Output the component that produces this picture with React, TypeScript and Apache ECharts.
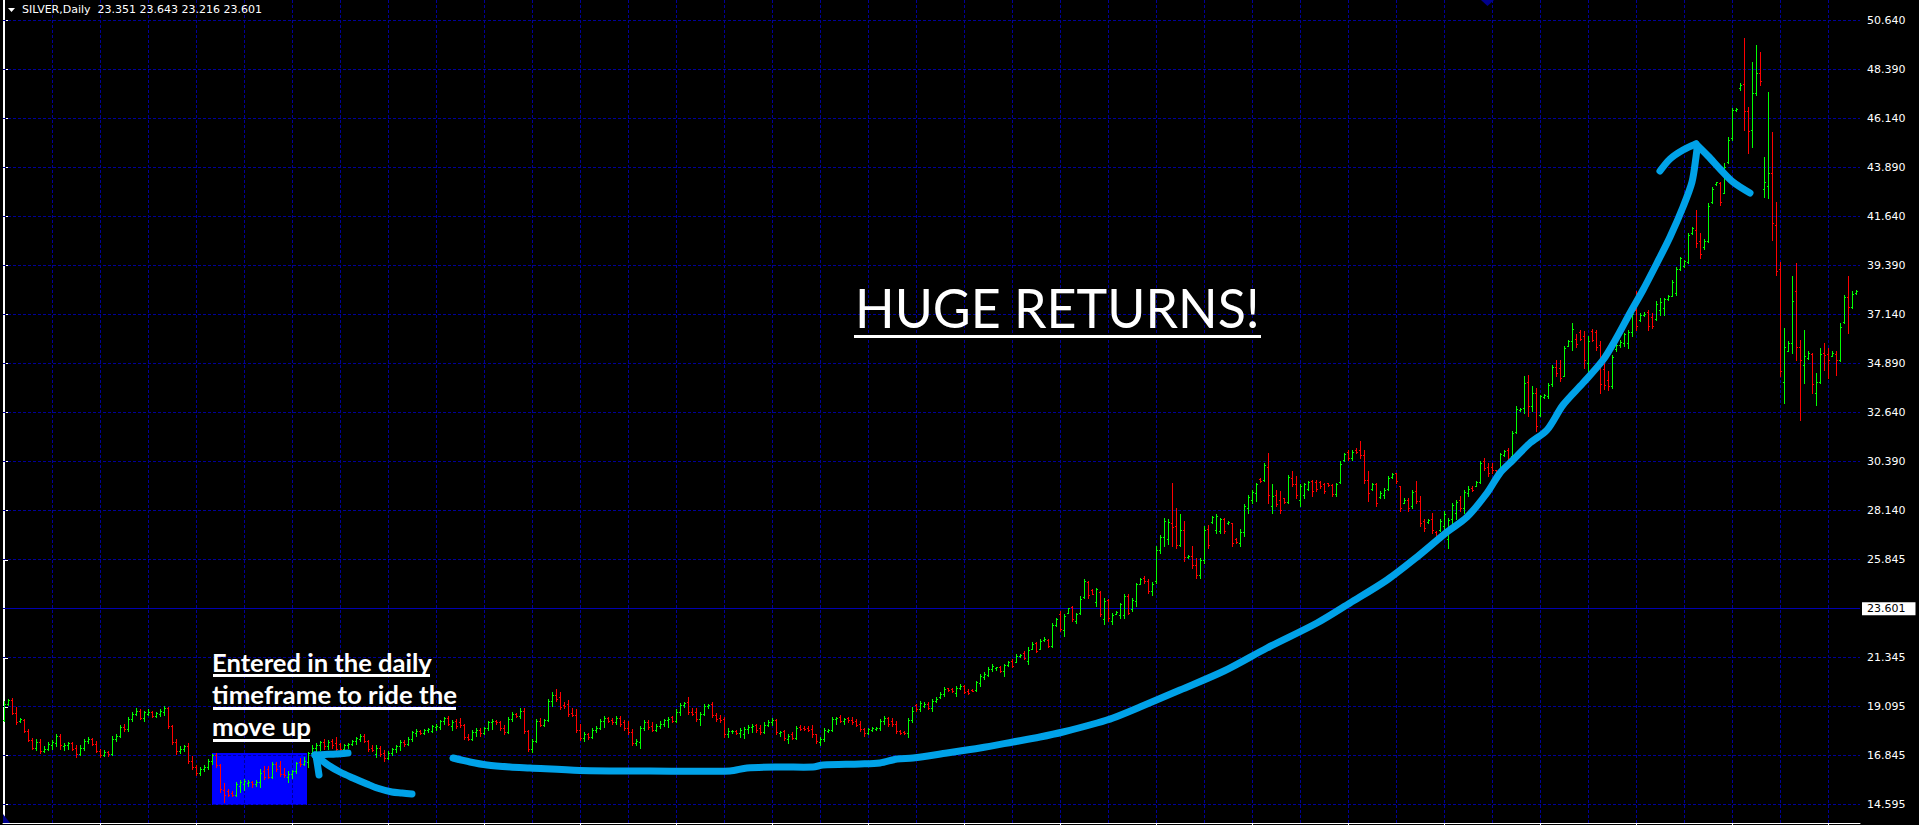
import React, { useEffect, useRef } from 'react';
import * as echarts from 'echarts';

// ---------------- data ----------------
const SYMBOL = 'SILVER,Daily';
const CURRENT_BAR = ['23.351', '23.643', '23.216', '23.601']; // open high low close of the live bar
const BID = 23.601;
const PRICE_LABELS = ['14.595', '16.845', '19.095', '21.345', '25.845', '28.140', '30.390', '32.640', '34.890', '37.140', '39.390', '41.640', '43.890', '46.140', '48.390', '50.640'];
const GRID_EVERY_BARS = 12;
const TIME_TICK_EVERY_BARS = 24;

// daily bars: [open, high, low, close]
const ohlc: number[][] = [
  [18.45,19.33,18.41,19.20],[19.20,19.45,19.15,19.38],[19.40,19.47,18.73,18.80],[18.80,19.05,18.27,18.35],[18.40,18.55,18.35,18.50],[18.45,18.50,17.90,17.95],[17.95,18.05,17.50,17.55],[17.55,17.65,17.12,17.20],[17.20,17.58,17.10,17.45],[17.45,17.60,16.93,17.05],
  [17.05,17.25,17.00,17.15],[17.15,17.45,17.10,17.35],[17.30,17.55,17.15,17.45],[17.40,17.80,17.28,17.75],[17.75,17.80,17.15,17.30],[17.25,17.40,17.10,17.30],[17.30,17.45,17.15,17.40],[17.40,17.45,17.08,17.15],[17.20,17.30,16.75,16.90],[16.90,17.30,16.85,17.20],
  [17.20,17.58,17.10,17.50],[17.50,17.70,17.40,17.60],[17.60,17.65,17.30,17.35],[17.35,17.50,17.00,17.05],[17.05,17.15,16.75,16.85],[16.85,17.10,16.80,17.00],[17.00,17.05,16.80,16.90],[16.90,17.72,16.85,17.60],[17.60,17.80,17.50,17.75],[17.75,18.25,17.70,18.15],
  [18.15,18.30,17.95,18.05],[18.05,18.60,17.95,18.50],[18.50,18.85,18.40,18.75],[18.75,19.00,18.70,18.90],[18.90,18.95,18.50,18.55],[18.55,18.90,18.40,18.85],[18.75,18.95,18.70,18.85],[18.85,18.90,18.60,18.65],[18.65,18.85,18.60,18.78],[18.75,18.95,18.65,18.90],
  [18.85,19.10,18.70,19.00],[19.00,19.05,18.10,18.20],[18.20,18.25,17.35,17.45],[17.45,17.60,16.90,17.05],[17.05,17.25,16.95,17.15],[17.15,17.30,17.05,17.25],[17.25,17.40,16.50,16.60],[16.60,16.80,16.20,16.30],[16.30,16.40,15.95,16.05],[16.05,16.30,15.95,16.20],
  [16.20,16.40,16.10,16.30],[16.30,16.65,16.20,16.60],[16.60,16.90,16.45,16.85],[16.85,16.95,16.30,16.40],[16.40,16.45,15.15,15.30],[15.25,15.55,14.68,15.00],[15.20,15.30,14.95,15.00],[15.10,15.20,14.95,15.00],[15.00,15.60,14.95,15.50],[15.45,15.70,15.15,15.60],
  [15.50,15.75,15.25,15.65],[15.55,15.70,15.45,15.60],[15.60,15.65,15.40,15.50],[15.50,15.70,15.45,15.60],[15.60,16.20,15.40,16.05],[16.10,16.35,15.75,15.85],[16.20,16.35,15.80,15.85],[15.85,16.55,15.80,16.45],[16.45,16.55,16.10,16.20],[16.35,16.60,15.90,16.00],
  [16.00,16.25,15.85,15.95],[15.85,16.10,15.60,16.00],[16.00,16.15,15.80,16.10],[16.10,16.55,16.05,16.50],[16.55,16.70,16.35,16.45],[16.45,16.75,16.40,16.60],[16.55,17.00,16.30,16.95],[16.95,17.30,16.85,17.20],[17.20,17.40,17.05,17.30],[17.30,17.50,17.10,17.45],
  [17.45,17.60,17.15,17.25],[17.25,17.55,17.15,17.45],[17.50,17.60,17.20,17.30],[17.40,17.70,17.05,17.15],[17.35,17.40,17.10,17.15],[17.15,17.35,17.10,17.30],[17.30,17.40,17.20,17.35],[17.35,17.55,17.30,17.50],[17.50,17.70,17.35,17.65],[17.60,17.80,17.50,17.75],
  [17.75,17.80,17.45,17.50],[17.50,17.55,17.05,17.15],[17.20,17.30,17.05,17.10],[16.90,17.30,16.75,17.20],[17.20,17.25,16.80,16.90],[16.95,17.10,16.60,16.70],[16.70,17.05,16.65,16.95],[16.95,17.20,16.85,17.15],[17.15,17.30,17.00,17.25],[17.25,17.55,17.10,17.45],
  [17.45,17.55,17.25,17.35],[17.35,17.70,17.30,17.60],[17.60,17.95,17.50,17.90],[17.85,18.05,17.75,17.95],[17.95,18.00,17.80,17.85],[17.85,18.05,17.80,18.00],[18.00,18.10,17.90,18.05],[17.95,18.25,17.90,18.20],[18.15,18.30,18.00,18.20],[18.15,18.45,18.05,18.40],
  [18.40,18.60,18.30,18.55],[18.55,18.65,18.25,18.30],[18.20,18.45,18.00,18.35],[18.40,18.50,18.10,18.20],[18.35,18.55,18.15,18.25],[18.25,18.30,17.60,17.70],[17.70,17.80,17.55,17.60],[17.60,18.00,17.55,17.90],[17.90,18.10,17.75,18.00],[18.00,18.10,17.75,17.85],
  [17.85,18.15,17.80,18.10],[18.10,18.40,18.00,18.35],[18.35,18.50,18.05,18.40],[18.40,18.45,18.30,18.35],[18.35,18.40,18.00,18.10],[18.10,18.25,17.80,17.90],[17.90,18.60,17.85,18.50],[18.50,18.85,18.40,18.75],[18.75,18.80,18.60,18.65],[18.65,19.00,18.55,18.90],
  [18.90,19.00,17.85,17.95],[17.95,18.00,17.05,17.15],[17.15,17.60,17.00,17.50],[17.50,18.50,17.45,18.40],[18.40,18.55,18.20,18.25],[18.25,18.50,18.20,18.45],[18.45,19.45,18.40,19.35],[19.35,19.75,19.10,19.60],[19.60,19.90,19.35,19.45],[19.50,19.75,18.95,19.05],
  [19.15,19.30,19.00,19.10],[19.20,19.40,18.65,18.75],[18.80,19.00,18.65,18.70],[18.70,18.95,17.90,18.00],[18.00,18.30,17.55,17.65],[17.65,17.90,17.50,17.80],[17.80,17.85,17.60,17.70],[17.70,18.10,17.65,18.00],[18.00,18.20,17.90,18.10],[18.10,18.50,18.05,18.40],
  [18.40,18.65,18.15,18.55],[18.55,18.60,18.35,18.40],[18.45,18.55,18.30,18.35],[18.35,18.65,18.30,18.55],[18.55,18.65,18.20,18.30],[18.35,18.45,18.00,18.10],[18.10,18.40,17.80,17.90],[17.90,18.05,17.30,17.40],[17.40,17.60,17.30,17.50],[17.45,18.20,17.20,18.10],
  [18.10,18.45,18.00,18.35],[18.35,18.45,18.05,18.15],[18.20,18.35,17.95,18.00],[18.00,18.30,17.95,18.20],[18.20,18.40,18.10,18.30],[18.30,18.50,18.20,18.45],[18.45,18.60,18.15,18.50],[18.60,18.65,18.35,18.40],[18.40,18.95,18.35,18.85],[18.85,19.25,18.70,19.15],
  [19.15,19.30,19.05,19.25],[19.30,19.50,18.75,18.85],[18.85,19.00,18.70,18.75],[18.85,19.00,18.40,18.50],[18.50,18.85,18.25,18.75],[18.75,19.20,18.70,19.10],[19.10,19.20,19.00,19.15],[19.20,19.30,18.60,18.70],[18.70,18.80,18.40,18.50],[18.55,18.70,18.35,18.45],
  [18.50,18.60,17.70,17.80],[17.80,18.10,17.70,17.95],[17.95,18.00,17.85,17.98],[17.95,18.00,17.80,17.85],[17.85,18.10,17.70,18.00],[17.80,18.15,17.65,18.05],[18.05,18.25,17.85,18.15],[18.15,18.30,17.90,18.20],[18.25,18.30,17.90,18.00],[18.10,18.25,17.80,17.90],
  [17.90,18.35,17.85,18.25],[18.25,18.45,18.20,18.35],[18.35,18.55,18.25,18.45],[18.45,18.50,17.80,17.90],[17.85,17.95,17.75,17.90],[17.95,18.00,17.55,17.65],[17.60,17.80,17.40,17.75],[17.80,17.90,17.60,17.65],[17.65,18.20,17.60,18.10],[18.15,18.25,18.00,18.05],
  [18.10,18.20,18.00,18.05],[18.10,18.20,17.95,18.00],[18.05,18.25,17.70,17.80],[17.80,17.80,17.40,17.50],[17.45,17.70,17.30,17.60],[17.60,18.10,17.50,18.00],[17.95,18.05,17.90,18.00],[18.00,18.60,17.95,18.50],[18.50,18.60,18.30,18.55],[18.60,18.70,18.35,18.40],
  [18.40,18.55,18.30,18.50],[18.55,18.60,18.35,18.45],[18.45,18.60,18.30,18.35],[18.40,18.50,18.20,18.25],[18.30,18.40,17.95,18.05],[18.05,18.10,17.75,17.85],[17.85,18.10,17.80,18.05],[18.00,18.15,17.95,18.10],[18.05,18.15,18.00,18.10],[18.10,18.50,18.00,18.40],
  [18.40,18.65,18.30,18.55],[18.55,18.60,18.20,18.30],[18.40,18.55,18.20,18.30],[18.30,18.40,17.85,17.95],[17.95,18.00,17.80,17.85],[17.90,17.95,17.80,17.85],[17.85,18.55,17.70,18.45],[18.45,19.05,18.35,18.90],[19.15,19.20,18.88,18.95],[18.95,19.35,18.88,19.25],
  [19.10,19.28,19.04,19.20],[19.20,19.27,18.97,19.02],[19.00,19.43,18.90,19.35],[19.35,19.50,19.27,19.45],[19.50,19.73,19.48,19.68],[19.65,19.96,19.58,19.90],[19.92,19.95,19.80,19.84],[19.88,19.92,19.76,19.80],[19.70,20.04,19.58,19.95],[19.95,20.12,19.88,20.05],
  [20.05,20.08,19.70,19.76],[19.82,19.88,19.65,19.70],[19.86,19.88,19.80,19.82],[19.85,20.27,19.80,20.20],[20.15,20.57,20.04,20.50],[20.45,20.65,20.34,20.60],[20.55,20.88,20.50,20.80],[20.80,21.03,20.73,20.95],[20.85,20.90,20.77,20.88],[20.92,20.96,20.68,20.72],
  [20.72,21.03,20.50,20.98],[20.98,21.20,20.95,21.15],[21.20,21.26,20.88,20.95],[21.15,21.50,21.11,21.40],[21.40,21.50,21.38,21.47],[21.55,21.64,21.26,21.30],[21.20,21.80,21.03,21.70],[21.75,22.03,21.72,21.95],[22.00,22.03,21.57,21.65],[21.75,22.18,21.72,22.10],
  [22.12,22.26,22.08,22.20],[22.15,22.18,21.80,21.87],[21.85,22.94,21.80,22.85],[22.85,23.17,22.79,23.10],[23.35,23.48,22.56,22.65],[22.60,23.33,22.33,23.25],[23.40,23.63,23.37,23.60],[23.65,23.71,23.02,23.10],[23.00,23.40,22.94,23.35],[23.40,24.17,23.33,24.05],
  [24.10,24.93,24.09,24.85],[24.80,24.86,24.09,24.20],[24.45,24.47,24.24,24.28],[23.90,24.55,23.71,24.50],[24.35,24.40,23.25,23.35],[23.10,24.09,22.87,23.95],[24.00,24.01,23.02,23.15],[23.00,23.40,22.87,23.30],[23.35,23.48,23.33,23.45],[23.30,23.86,23.17,23.80],
  [23.30,24.24,23.17,24.15],[24.15,24.24,23.33,23.40],[23.55,24.09,23.48,24.00],[23.95,24.78,23.71,24.70],[24.72,25.01,24.70,24.95],[25.00,25.09,24.78,24.85],[24.85,24.95,24.30,24.40],[24.40,24.80,24.20,24.70],[24.85,26.46,24.78,26.30],[26.30,26.99,26.16,26.90],
  [26.90,27.76,26.46,27.60],[26.80,27.69,26.54,27.55],[27.50,29.37,26.46,27.35],[27.40,28.22,26.39,26.50],[26.50,27.92,26.46,27.20],[27.20,27.61,25.77,25.95],[25.95,26.05,25.90,26.00],[26.00,26.46,25.47,25.60],[25.60,25.93,25.01,25.15],[25.15,25.93,25.01,25.80],
  [25.80,27.38,25.70,27.20],[27.25,27.41,26.39,26.50],[27.55,27.84,27.53,27.80],[27.20,27.92,27.07,27.85],[27.15,27.76,27.07,27.70],[27.70,27.76,27.07,27.15],[27.50,27.61,27.46,27.58],[27.50,27.53,26.46,26.60],[26.80,26.85,26.62,26.65],[26.60,27.23,26.46,27.10],
  [27.10,28.38,26.92,28.30],[28.20,28.83,27.99,28.70],[28.60,29.06,28.45,28.95],[28.90,29.37,28.53,29.30],[29.55,29.60,29.42,29.46],[29.50,30.29,29.45,30.20],[30.10,30.75,28.45,28.80],[28.30,29.30,27.99,28.75],[28.80,29.06,28.30,28.40],[28.60,28.99,27.99,28.10],
  [28.65,28.68,28.45,28.50],[28.50,29.75,28.45,29.65],[29.60,29.90,29.22,29.30],[29.30,29.68,28.68,28.80],[28.60,29.30,28.30,29.20],[28.80,29.37,28.68,29.30],[29.10,29.45,29.06,29.40],[29.45,29.52,28.76,29.00],[29.40,29.52,28.99,29.10],[29.40,29.45,29.14,29.20],
  [29.30,29.37,28.91,29.00],[29.35,29.37,29.22,29.25],[29.25,29.30,28.76,28.85],[28.85,29.37,28.76,29.30],[29.40,30.37,29.37,30.25],[30.40,30.75,30.37,30.70],[30.80,30.90,30.44,30.50],[30.50,30.90,30.44,30.80],[30.90,30.98,30.75,30.80],[30.90,31.28,30.52,30.65],
  [30.65,30.90,29.37,29.50],[29.50,29.90,28.53,28.90],[29.10,29.37,29.06,29.30],[29.30,29.37,28.30,28.45],[28.70,28.99,28.68,28.90],[28.80,29.14,28.68,29.05],[29.10,29.68,29.06,29.60],[29.62,29.83,29.60,29.78],[29.80,29.83,29.37,29.45],[29.20,29.22,28.07,28.20],
  [28.45,28.68,28.43,28.60],[28.60,28.68,28.07,28.20],[28.30,29.06,28.22,28.95],[29.00,29.45,28.45,28.55],[28.55,28.76,27.38,27.50],[27.60,27.69,27.15,27.30],[27.55,27.69,27.53,27.65],[27.70,27.99,27.07,27.20],[27.10,27.15,26.85,26.90],[27.20,27.69,27.15,27.60],
  [27.40,28.07,27.15,27.95],[26.80,27.76,26.39,27.65],[27.70,28.45,27.38,28.35],[28.00,28.60,27.69,28.50],[28.60,28.76,28.07,28.20],[28.20,29.06,27.99,28.95],[28.90,29.22,28.76,29.10],[29.15,29.22,28.99,29.05],[29.22,29.45,29.20,29.40],[29.40,30.37,29.37,30.30],
  [30.35,30.52,29.98,30.05],[30.10,30.29,29.68,29.80],[30.10,30.29,29.83,29.95],[29.96,29.98,29.80,29.85],[29.90,30.75,29.85,30.70],[30.65,30.90,30.59,30.85],[30.90,30.98,30.36,30.45],[30.60,31.74,30.59,31.65],[31.70,32.89,31.67,32.75],[32.70,32.82,32.66,32.78],
  [32.80,34.27,32.58,33.95],[34.00,34.34,32.43,32.90],[32.90,33.81,32.66,33.50],[33.50,33.73,31.74,32.00],[32.50,33.42,32.43,33.35],[33.30,33.45,33.27,33.40],[33.35,33.96,33.27,33.85],[33.90,34.80,33.81,34.70],[34.70,35.03,34.27,34.40],[34.65,35.03,34.04,34.20],
  [34.30,35.64,34.27,35.55],[35.65,35.95,35.64,35.90],[35.90,36.71,35.49,36.45],[36.00,36.20,35.60,35.75],[36.30,36.41,35.95,36.00],[36.10,36.33,34.65,35.00],[34.90,36.10,34.42,35.90],[36.35,36.45,35.87,35.95],[36.30,36.41,35.49,35.60],[35.70,35.87,33.50,33.90],
  [34.60,34.88,33.70,33.85],[34.10,34.50,33.65,33.80],[33.80,35.26,33.73,35.15],[35.50,35.75,35.45,35.70],[35.70,35.95,35.60,35.85],[35.80,36.26,35.64,36.20],[35.80,36.41,35.57,36.30],[36.30,37.25,36.10,37.15],[37.30,38.17,36.41,36.60],[36.85,37.17,36.79,37.10],
  [37.10,37.20,37.05,37.15],[37.20,37.33,36.41,36.60],[37.00,37.17,36.48,36.60],[36.90,37.71,36.87,37.60],[37.30,37.86,37.10,37.70],[37.40,37.86,37.10,37.80],[37.80,38.01,37.79,37.95],[37.95,38.70,37.94,38.60],[38.10,39.31,38.01,39.20],[39.20,39.77,39.16,39.70],
  [39.35,39.62,39.31,39.55],[39.50,40.85,39.47,40.75],[40.85,41.15,40.83,41.10],[41.00,41.92,40.23,40.40],[40.50,40.85,39.70,39.90],[40.20,40.60,40.10,40.50],[40.50,42.22,40.46,42.10],[42.30,42.99,42.22,42.90],[43.10,43.22,43.08,43.20],[43.15,43.22,42.15,42.30],
  [42.70,44.06,42.68,43.90],[44.10,45.28,44.06,45.15],[45.20,46.58,45.13,46.50],[46.50,46.60,46.48,46.57],[47.50,47.73,47.45,47.68],[47.70,49.80,45.59,46.45],[46.45,46.66,44.52,45.55],[45.60,48.72,44.82,47.30],[47.30,49.49,47.20,48.20],[48.20,49.18,47.65,47.85],
  [42.90,44.36,42.53,43.22],[43.00,47.35,42.45,43.60],[43.60,45.51,40.54,41.30],[41.20,42.30,38.93,39.10],[39.20,39.54,34.27,34.50],[34.00,36.48,33.04,35.60],[35.45,35.87,35.41,35.80],[35.80,38.86,35.34,37.75],[38.20,39.47,35.03,35.60],[35.60,35.95,32.28,35.00],
  [34.80,36.41,33.96,35.20],[35.10,35.41,35.08,35.35],[35.30,35.34,33.50,33.90],[33.50,34.42,32.96,34.00],[34.00,35.57,33.96,35.30],[35.35,35.79,34.57,35.25],[35.30,35.57,34.19,35.00],[35.20,35.41,35.18,35.35],[35.30,35.41,34.34,35.00],[35.00,36.71,34.95,36.55],
  [36.75,38.01,36.71,37.90],[37.90,38.86,36.26,37.45],[37.45,38.17,37.40,38.05],[38.08,38.24,38.05,38.20],
];

// highlighted entry zone (in bar index / price units)
const ENTRY_ZONE = { fromBar: 52, toBar: 75.75, top: 16.97, bottom: 14.6 };

// ---------------- layout & style ----------------
const W = 1919;
const H = 825;
const PLOT_LEFT = 3;
const PLOT_RIGHT = 1860;
const PLOT_BOTTOM = 823;
const BAR_PX = 4;
const X_MIN = -0.25;
const X_MAX = X_MIN + (PLOT_RIGHT - PLOT_LEFT) / BAR_PX;
const Y_MAX = 51.59;
const Y_MIN = 13.752;

const UP = '#00ff00';
const DOWN = '#ff0000';
const GRID_COLOR = '#000098';
const BID_COLOR = '#0000b0';
const INK = '#00a2e8';
const ZONE_COLOR = '#0000ff';

// freehand annotation strokes (screen pixels)
const SMALL_ARROW_SHAFT = [[412,794],[402,793],[392,792],[377,788],[367,784],[353,778],[340,772],[328,765],[319,758],[315,755]];
const SMALL_ARROW_HEAD_A = [[315,755],[325,754.5],[336,754],[348,753]];
const SMALL_ARROW_HEAD_B = [[316,756],[317.5,765],[319,775]];
const BIG_CURVE = [[453,758],[470,762],[487,765],[510,767],[530,768],[580,770.5],[650,771],[730,771],[747,768],[780,767],[813,767],[823,765],[860,764],[880,763],[897,759],[913,758],[947,753],[980,748],[1013,742],[1040,737],[1063,732],[1097,723],[1113,718],[1140,707],[1180,690],[1224,671],[1267,648],[1317,623],[1350,603],[1387,580],[1417,557],[1447,532],[1467,517],[1487,493],[1500,473],[1513,460],[1530,443],[1547,430],[1563,405],[1583,383],[1603,360],[1617,337],[1630,313],[1643,290],[1657,263],[1670,237],[1683,207],[1692,182],[1696,157],[1697,147],[1696,144]];
const BIG_HEAD_LEFT = [[1696,144],[1683,150],[1670,159],[1660,171]];
const BIG_HEAD_RIGHT = [[1697,145],[1708,156],[1720,169],[1733,182],[1750,193]];

function measure(text: string, font: string): number {
  const ctx = document.createElement('canvas').getContext('2d');
  if (!ctx) return 1;
  ctx.font = font;
  return ctx.measureText(text).width || 1;
}

function fittedText(text: string, x: number, y: number, size: number, weight: string, family: string, targetWidth: number) {
  const w = measure(text, `${weight} ${size}px ${family}`);
  return {
    type: 'text', x, y, scaleX: targetWidth / w, scaleY: 1, z: 100, silent: true,
    style: { text, fill: '#ffffff', fontSize: size, fontWeight: weight, fontFamily: family, align: 'left', verticalAlign: 'middle' },
  };
}

function stroke(points: number[][], smooth = 0.35) {
  return {
    type: 'polyline', z: 90, silent: true,
    shape: { points, smooth },
    style: { stroke: INK, lineWidth: 7, lineCap: 'round', lineJoin: 'round', fill: null },
  };
}

function buildOption(): any {
  const tickValues = PRICE_LABELS.map(Number);
  const vGrid: number[] = [];
  for (let i = GRID_EVERY_BARS; i < ohlc.length; i += GRID_EVERY_BARS) vGrid.push(i);
  const timeTicks: number[] = [];
  for (let i = TIME_TICK_EVERY_BARS; i < ohlc.length; i += TIME_TICK_EVERY_BARS) timeTicks.push(i);

  const gridData = [
    ...tickValues.map((v) => [0, v]),
    ...vGrid.map((i) => [1, i]),
    [2, BID],
  ];

  const title = `${SYMBOL}  ${CURRENT_BAR.join(' ')}`;

  return {
    animation: false,
    backgroundColor: '#000000',
    grid: { left: PLOT_LEFT, right: W - PLOT_RIGHT, top: 0, bottom: H - PLOT_BOTTOM, containLabel: false },
    xAxis: {
      type: 'value', min: X_MIN, max: X_MAX,
      axisLine: { show: true, onZero: false, lineStyle: { color: '#ffffff', width: 1 } },
      axisTick: { show: true, length: 3, customValues: timeTicks, lineStyle: { color: '#ffffff' } },
      axisLabel: { show: false },
      splitLine: { show: false },
    },
    yAxis: [
      {
        type: 'value', position: 'right', min: Y_MIN, max: Y_MAX,
        axisLine: { show: true, lineStyle: { color: '#ffffff', width: 1 } },
        axisTick: { show: true, length: 4, inside: false, customValues: tickValues, lineStyle: { color: '#ffffff' } },
        axisLabel: {
          show: true, margin: 2, customValues: [...tickValues, BID],
          formatter: (v: number) => (Math.abs(v - BID) < 1e-9 ? `{bid|${v.toFixed(3)}}` : `{n|${v.toFixed(3)}}`),
          rich: {
            n: { color: '#ffffff', fontFamily: 'DejaVu Sans', fontSize: 11, padding: [0, 0, 0, 5] },
            bid: { color: '#000000', backgroundColor: '#ffffff', fontFamily: 'DejaVu Sans', fontSize: 11, lineHeight: 11, padding: [1, 10, 1, 5] },
          },
        },
        splitLine: { show: false },
      },
      {
        type: 'value', position: 'left', min: Y_MIN, max: Y_MAX,
        axisLine: { show: true, lineStyle: { color: '#ffffff', width: 1 } },
        axisTick: { show: false }, axisLabel: { show: false }, splitLine: { show: false },
      },
    ],
    series: [
      {
        type: 'custom', name: 'zone', z: 1, silent: true,
        data: [[ENTRY_ZONE.fromBar, ENTRY_ZONE.toBar, ENTRY_ZONE.top, ENTRY_ZONE.bottom]],
        renderItem: (_p: any, api: any) => {
          const a = api.coord([api.value(0), api.value(2)]);
          const b = api.coord([api.value(1), api.value(3)]);
          const x0 = Math.round(a[0]);
          const y0 = Math.round(a[1]);
          return {
            type: 'rect',
            shape: { x: x0, y: y0, width: Math.round(b[0]) - x0, height: Math.round(b[1]) - y0 },
            style: { fill: ZONE_COLOR },
          };
        },
      },
      {
        type: 'custom', name: 'grid', z: 2, silent: true,
        data: gridData,
        renderItem: (params: any, api: any) => {
          const kind = api.value(0);
          const v = api.value(1);
          const cs = params.coordSys;
          if (kind === 1) {
            const x = Math.round(api.coord([v, Y_MIN])[0]) + 0.5;
            return {
              type: 'line', shape: { x1: x, y1: cs.y, x2: x, y2: cs.y + cs.height },
              style: { stroke: GRID_COLOR, lineWidth: 1, lineDash: [3, 2] },
            };
          }
          const y = Math.floor(api.coord([X_MIN, v])[1]) + 0.5;
          if (kind === 2) {
            return {
              type: 'line', shape: { x1: cs.x, y1: y, x2: cs.x + cs.width, y2: y },
              style: { stroke: BID_COLOR, lineWidth: 1 },
            };
          }
          return {
            type: 'line', shape: { x1: cs.x, y1: y, x2: cs.x + cs.width, y2: y },
            style: { stroke: GRID_COLOR, lineWidth: 1, lineDash: [3, 2] },
          };
        },
      },
      {
        type: 'custom', name: 'SILVER', z: 3, silent: true,
        data: ohlc.map((b, i) => [i, b[0], b[1], b[2], b[3]]),
        renderItem: (_p: any, api: any) => {
          const i = api.value(0);
          const o = api.value(1);
          const h = api.value(2);
          const l = api.value(3);
          const c = api.value(4);
          const X = Math.round(api.coord([i, h])[0]);
          const yH = Math.floor(api.coord([i, h])[1]);
          const yL = Math.floor(api.coord([i, l])[1]);
          const yO = Math.floor(api.coord([i, o])[1]);
          const yC = Math.floor(api.coord([i, c])[1]);
          const color = c >= o ? UP : DOWN;
          return {
            type: 'group',
            children: [
              { type: 'rect', shape: { x: X, y: yH, width: 1, height: Math.max(1, yL - yH + 1) }, style: { fill: color } },
              { type: 'rect', shape: { x: X - 1, y: yO, width: 1, height: 1 }, style: { fill: color } },
              { type: 'rect', shape: { x: X + 1, y: yC, width: 1, height: 1 }, style: { fill: color } },
            ],
          };
        },
      },
    ],
    graphic: [
      { type: 'polygon', z: 100, silent: true, shape: { points: [[8, 8], [15, 8], [11.5, 12]] }, style: { fill: '#ffffff' } },
      { type: 'text', x: 22, y: 9.5, z: 100, silent: true, style: { text: title, fill: '#ffffff', fontSize: 11, fontFamily: 'DejaVu Sans', align: 'left', verticalAlign: 'middle' } },
      { type: 'polygon', z: 100, silent: true, shape: { points: [[1481, 0], [1494, 0], [1487.5, 6]] }, style: { fill: '#00008b' } },
      { type: 'polygon', z: 100, silent: true, shape: { points: [[3, 814], [3, 823], [10, 823]] }, style: { fill: '#00008b' } },

      fittedText('HUGE RETURNS!', 855, 307, 54, 'normal', 'Lato', 405),
      { type: 'rect', z: 100, silent: true, shape: { x: 854, y: 335, width: 407, height: 3 }, style: { fill: '#ffffff' } },

      fittedText('Entered in the daily', 212, 662.5, 24, 'bold', 'Lato', 220),
      { type: 'rect', z: 100, silent: true, shape: { x: 213, y: 674, width: 217, height: 3 }, style: { fill: '#ffffff' } },
      fittedText('timeframe to ride the', 212, 694, 24, 'bold', 'Lato', 245),
      { type: 'rect', z: 100, silent: true, shape: { x: 213, y: 707, width: 243, height: 3 }, style: { fill: '#ffffff' } },
      fittedText('move up', 212, 726, 24, 'bold', 'Lato', 99),
      { type: 'rect', z: 100, silent: true, shape: { x: 213, y: 739, width: 97, height: 3 }, style: { fill: '#ffffff' } },

      stroke(BIG_CURVE, 0.3),
      stroke(BIG_HEAD_LEFT, 0.3),
      stroke(BIG_HEAD_RIGHT, 0.3),
      stroke(SMALL_ARROW_SHAFT, 0.3),
      stroke(SMALL_ARROW_HEAD_A, 0.2),
      stroke(SMALL_ARROW_HEAD_B, 0.2),
    ],
  };
}

export default function App() {
  const ref = useRef<HTMLDivElement>(null);
  useEffect(() => {
    document.body.style.margin = '0';
    document.body.style.background = '#000000';
    if (!ref.current) return;
    const chart = echarts.init(ref.current, null, { renderer: 'svg' });
    chart.setOption(buildOption());
    return () => chart.dispose();
  }, []);
  return <div ref={ref} style={{ width: W, height: H, background: '#000000' }} />;
}
